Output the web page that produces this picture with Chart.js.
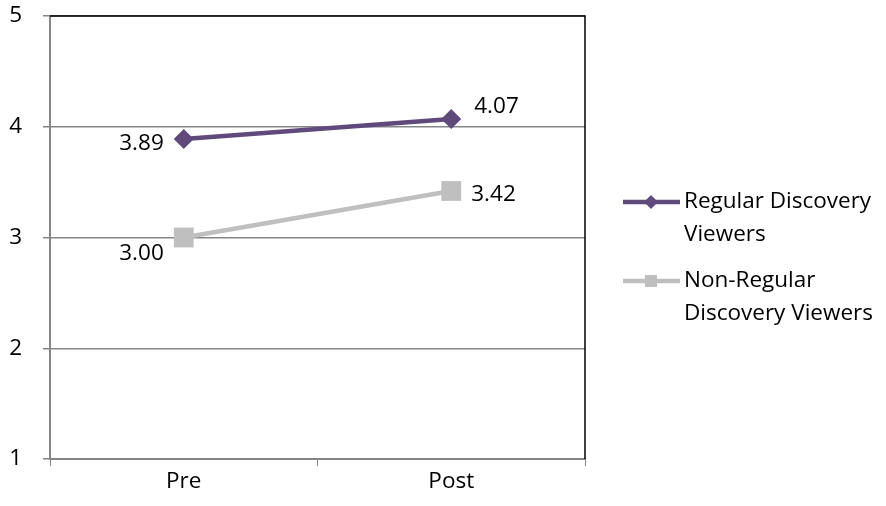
<!DOCTYPE html>
<html>
<head>
<meta charset="utf-8">
<script src="https://cdn.jsdelivr.net/npm/chart.js@4"></script>
<style>
html,body{margin:0;padding:0;background:#fff;}
#wrap{width:886px;height:506px;}
</style>
</head>
<body>
<div id="wrap"><canvas id="c" width="886" height="506"></canvas></div>
<script>
const categories = ["Pre", "Post"];
const regularViewers = [3.89, 4.07];
const nonRegularViewers = [3.00, 3.42];
const seriesNames = [["Regular Discovery", "Viewers"], ["Non-Regular", "Discovery Viewers"]];
const yTicks = [1, 2, 3, 4, 5];

const FONT = "'Open Sans', sans-serif";
const FS = 22.5;
const PURPLE = '#604A7B';
const GRAY = '#BFBFBF';
const AXIS = '#868686';

const labelPlugin = {
  id: 'labels',
  afterDatasetsDraw(chart) {
    const ctx = chart.ctx;
    ctx.save();
    ctx.font = FS + 'px ' + FONT;
    ctx.fillStyle = '#000';
    ctx.textBaseline = 'middle';
    const cfg = [
      [{dx: -20, dy: 5, a: 'right'}, {dx: 23, dy: -12, a: 'left'}],
      [{dx: -20, dy: 16, a: 'right'}, {dx: 20, dy: 4, a: 'left'}]
    ];
    chart.data.datasets.forEach((ds, di) => {
      const meta = chart.getDatasetMeta(di);
      meta.data.forEach((pt, i) => {
        const c = cfg[di][i];
        ctx.textAlign = c.a;
        ctx.fillText(ds.data[i].toFixed(2), pt.x + c.dx, pt.y + c.dy);
      });
    });
    ctx.restore();
  }
};

const borderPlugin = {
  id: 'border',
  beforeDatasetsDraw(chart) {
    const {ctx, chartArea: a} = chart;
    ctx.save();
    ctx.strokeStyle = '#000';
    ctx.lineWidth = 1.5;
    ctx.beginPath();
    ctx.moveTo(a.left, a.top);
    ctx.lineTo(a.right, a.top);
    ctx.lineTo(a.right, a.bottom);
    ctx.stroke();
    ctx.restore();
  }
};

const legendPlugin = {
  id: 'customLegend',
  afterDraw(chart) {
    const ctx = chart.ctx;
    ctx.save();
    ctx.font = FS + 'px ' + FONT;
    ctx.fillStyle = '#000';
    ctx.textBaseline = 'middle';
    ctx.textAlign = 'left';
    const ys = [202, 281];
    chart.data.datasets.forEach((ds, di) => {
      const y = ys[di];
      ctx.strokeStyle = ds.borderColor;
      ctx.lineWidth = 4.5;
      ctx.beginPath();
      ctx.moveTo(623, y);
      ctx.lineTo(680, y);
      ctx.stroke();
      ctx.fillStyle = ds.borderColor;
      ctx.beginPath();
      if (ds.pointStyle === 'rectRot') {
        const r = 7;
        ctx.moveTo(651, y - r); ctx.lineTo(651 + r, y); ctx.lineTo(651, y + r); ctx.lineTo(651 - r, y);
        ctx.closePath();
      } else {
        ctx.rect(651 - 6, y - 6, 12, 12);
      }
      ctx.fill();
      ctx.fillStyle = '#000';
      seriesNames[di].forEach((line, li) => {
        ctx.fillText(line, 684, y + li * 33);
      });
    });
    ctx.restore();
  }
};

new Chart(document.getElementById('c'), {
  type: 'line',
  data: {
    labels: categories,
    datasets: [
      {
        label: seriesNames[0].join(' '),
        data: regularViewers,
        borderColor: PURPLE,
        backgroundColor: PURPLE,
        borderWidth: 4.5,
        pointStyle: 'rectRot',
        pointRadius: 10,
        pointHoverRadius: 10,
        pointBorderWidth: 0,
        tension: 0
      },
      {
        label: seriesNames[1].join(' '),
        data: nonRegularViewers,
        borderColor: GRAY,
        backgroundColor: GRAY,
        borderWidth: 4.5,
        pointStyle: 'rect',
        pointRadius: 14,
        pointHoverRadius: 14,
        pointBorderWidth: 0,
        tension: 0
      }
    ]
  },
  options: {
    responsive: false,
    animation: false,
    devicePixelRatio: 1,
    layout: {padding: {top: 16, right: 301, left: 0, bottom: 0}},
    plugins: {legend: {display: false}, tooltip: {enabled: false}},
    scales: {
      x: {
        type: 'category',
        offset: true,
        grid: {offset: true, drawOnChartArea: false, drawTicks: true, tickLength: 7, color: AXIS, lineWidth: 1},
        border: {display: true, color: AXIS, width: 2},
        ticks: {font: {family: FONT, size: FS}, color: '#000', padding: 2, maxRotation: 0},
        afterFit(s) { s.height = 47; s.paddingLeft = 0; s.paddingRight = 0; }
      },
      y: {
        min: 1,
        max: 5,
        afterBuildTicks(s) { s.ticks = yTicks.map(v => ({value: v})); },
        grid: {color: AXIS, lineWidth: 1.5, tickLength: 7, drawTicks: true},
        border: {display: true, color: AXIS, width: 2},
        ticks: {font: {family: FONT, size: FS}, color: '#000', padding: 21},
        afterFit(s) { s.width = 50; s.paddingTop = 0; s.paddingBottom = 0; }
      }
    }
  },
  plugins: [borderPlugin, labelPlugin, legendPlugin]
});
</script>
</body>
</html>
